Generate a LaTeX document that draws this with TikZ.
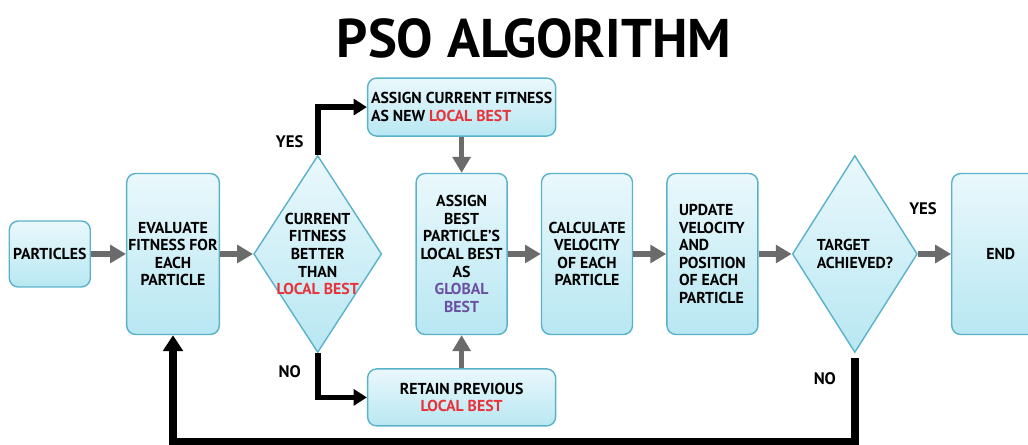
\documentclass[tikz,border=0pt]{standalone}
\usepackage{fontspec}
\setmainfont{PT Sans}
\usetikzlibrary{positioning,shapes.geometric,arrows.meta}
\definecolor{boxtop}{HTML}{EAF8FC}
\definecolor{boxbot}{HTML}{B8E7F2}
\definecolor{boxline}{HTML}{5AB2CA}
\definecolor{bestred}{HTML}{E8333B}
\definecolor{bestpurple}{HTML}{6C4FA3}
\definecolor{arrgray}{HTML}{6B6B6B}

\begin{document}
\begin{tikzpicture}[
          node distance=6.8mm and 6.6mm,
          font=\bfseries\fontsize{9}{10}\selectfont,
          proc/.style={rectangle,rounded corners=1.8mm,draw=boxline,line width=0.8pt,top color=boxtop,bottom color=boxbot,align=center,inner sep=1pt,minimum width=18.2mm,minimum height=32.2mm},
          dec/.style={diamond,shape aspect=0.65,draw=boxline,line width=0.8pt,top color=boxtop,bottom color=boxbot,align=center,inner sep=-1.2mm,minimum width=25.6mm,minimum height=39.4mm},
          lbl/.style={font=\bfseries\fontsize{9.5}{11}\selectfont},
          flow/.style={draw=arrgray,line width=3.2pt,-{Triangle[length=9pt,width=10pt]}},
          branch/.style={draw=black,line width=3.2pt,-{Triangle[length=7.5pt,width=9pt]}},
          loopback/.style={draw=black,line width=4.4pt,-{Triangle[length=9pt,width=11pt]}}
        ]
        \useasboundingbox (0,0) rectangle (20.56,8.9);
        \clip (0,0) rectangle (20.56,8.9);
        \node[font=\bfseries\fontsize{31}{33}\selectfont] (title) at (10.68,8.14) {PSO ALGORITHM};
        \node[proc] (eval) at (3.46,3.82) {EVALUATE\\FITNESS FOR\\EACH\\PARTICLE};
        \node[proc,minimum width=16.2mm,minimum height=13.2mm,left=7mm of eval] (parts) {PARTICLES};
        \node[dec,right=of eval] (better) {CURRENT\\FITNESS\\BETTER\\THAN\\\textcolor{bestred}{LOCAL BEST}};
        \node[proc,right=of better] (global) {ASSIGN\\BEST\\PARTICLE'S\\LOCAL BEST\\AS\\\textcolor{bestpurple}{GLOBAL}\\\textcolor{bestpurple}{BEST}};
        \node[proc,align=left,minimum width=37.6mm,minimum height=11.6mm,above=7.2mm of global] (newlocal) {ASSIGN CURRENT FITNESS\\AS NEW \textcolor{bestred}{LOCAL BEST}};
        \node[proc,minimum width=37.6mm,minimum height=11.4mm,below=6.6mm of global] (retain) {RETAIN PREVIOUS\\\textcolor{bestred}{LOCAL BEST}};
        \node[proc,right=of global] (calc) {CALCULATE\\VELOCITY\\OF EACH\\PARTICLE};
        \node[proc,align=left,right=of calc] (update) {UPDATE\\VELOCITY\\AND\\POSITION\\OF EACH\\PARTICLE};
        \node[dec,align=left,shape aspect=0.635,minimum width=25mm,right=of update] (target) {TARGET\\ACHIEVED?};
        \node[proc,minimum width=19.6mm,right=of target] (end) {END};
        \draw[flow] (parts) -- (eval);
        \draw[flow] (eval) -- (better);
        \draw[flow] (newlocal) -- (global);
        \draw[flow] (retain) -- (global);
        \draw[flow] (global) -- (calc);
        \draw[flow] (calc) -- (update);
        \draw[flow] (update) -- (target);
        \draw[flow] (target) -- (end);
        \draw[branch] (better.north) |- (newlocal.west);
        \draw[branch] (better.south) |- (retain.west);
        \coordinate (loopfoot) at ([yshift=-1.78cm]target.south);
        \draw[loopback,shorten <=3pt] (target.south) -- (loopfoot) -| (eval.south);
        \node[lbl] (yes1) at ([xshift=-5.6mm,yshift=2.6mm]better.north) {YES};
        \node[lbl] (no1) at ([xshift=-5.6mm,yshift=-3.6mm]better.south) {NO};
        \node[lbl] (yes2) at ([xshift=1mm,yshift=9mm]target.east) {YES};
        \node[lbl] (no2) at ([xshift=-6mm,yshift=-5mm]target.south) {NO};
      \end{tikzpicture}
\end{document}
